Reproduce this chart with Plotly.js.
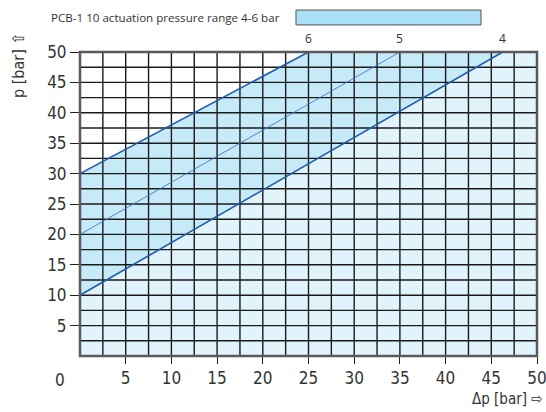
<!DOCTYPE html>
<html>
<head>
<meta charset="utf-8">
<script src="https://cdn.plot.ly/plotly-3.0.1.min.js"></script>
<style>html,body{margin:0;padding:0;background:#fff;}#chart{width:546px;height:412px;}</style>
</head>
<body>
<div id="chart"></div>
<script>
// Line labels (actuation pressure, bar)
var lineLabels = ['6', '5', '4'];
// Upper limit (6 bar)
var upperX = [0, 25, 50];
var upperY = [30, 50, 50];
// Middle line (5 bar)
var midX = [0, 35];
var midY = [20, 50];
// Lower limit (4 bar)
var lowerX = [0, 46.25, 50];
var lowerY = [10, 50, 50];
// Axis ticks
var xTicks = [5, 10, 15, 20, 25, 30, 35, 40, 45, 50];
var yTicks = [5, 10, 15, 20, 25, 30, 35, 40, 45, 50];
var gridStep = 2.5;
var axisMax = 50;

var gx = [], gy = [];
for (var v = 0; v <= axisMax + 1e-9; v += gridStep) {
  gx.push(v, v, null); gy.push(0, axisMax, null);
  gx.push(0, axisMax, null); gy.push(v, v, null);
}

var lineBlue = '#1e5cab';
var traces = [
  {x: upperX, y: upperY, type: 'scatter', mode: 'lines', fill: 'tozeroy',
   fillcolor: '#c7eaf9', line: {width: 0}, hoverinfo: 'skip'},
  {x: lowerX, y: lowerY, type: 'scatter', mode: 'lines', fill: 'tozeroy',
   fillcolor: '#e1f4fc', line: {width: 0}, hoverinfo: 'skip'},
  {x: gx, y: gy, type: 'scatter', mode: 'lines', line: {color: '#1a1a1a', width: 1.4}, hoverinfo: 'skip'},
  {x: upperX.slice(0, 2), y: upperY.slice(0, 2), type: 'scatter', mode: 'lines', line: {color: lineBlue, width: 1.6}},
  {x: midX, y: midY, type: 'scatter', mode: 'lines', line: {color: '#3b7cc9', width: 0.9}},
  {x: lowerX.slice(0, 2), y: lowerY.slice(0, 2), type: 'scatter', mode: 'lines', line: {color: lineBlue, width: 1.6}}
];

var narrow = 'Liberation Sans Narrow, DejaVu Sans Condensed, Arial Narrow, sans-serif';
var tickFont = {family: narrow, size: 17, color: '#333'};
var annotations = [
  {xref: 'paper', yref: 'paper', x: 0, y: 0, xanchor: 'center', yanchor: 'middle', xshift: -20, yshift: -24,
   text: '0', showarrow: false, font: tickFont},
  {xref: 'paper', yref: 'paper', x: 0.935, y: 0, xanchor: 'center', yanchor: 'middle', yshift: -43,
   text: 'Δp [bar] ⇨', showarrow: false, font: {family: narrow, size: 15, color: '#333'}},
  {xref: 'paper', yref: 'paper', x: 0, y: 1, xanchor: 'center', yanchor: 'middle', xshift: -62, yshift: -14,
   text: 'p [bar] ⇧', textangle: -90, showarrow: false, font: {family: narrow, size: 16, color: '#333'}},
  {xref: 'paper', yref: 'paper', x: 0.186, y: 1.112, xanchor: 'center', yanchor: 'middle',
   text: 'PCB-1 10 actuation pressure range 4-6 bar', showarrow: false,
   font: {family: 'Open Sans, sans-serif', size: 11.6, color: '#333'}}
];
var tops = [upperX[1], midX[1], lowerX[1]];
for (var i = 0; i < lineLabels.length; i++) {
  annotations.push({x: tops[i], y: axisMax, xref: 'x', yref: 'y', yanchor: 'bottom', yshift: 3,
    text: lineLabels[i], showarrow: false, font: {family: 'Open Sans, sans-serif', size: 12, color: '#333'}});
}

var layout = {
  width: 546, height: 412,
  margin: {l: 80, r: 9, t: 52, b: 56},
  paper_bgcolor: '#fff', plot_bgcolor: '#fff',
  showlegend: false,
  xaxis: {range: [0, axisMax], tickvals: xTicks, ticks: 'outside', ticklen: 7, tickcolor: '#222',
    ticklabeloverflow: 'allow', showgrid: false, zeroline: false, showline: false, tickfont: tickFont, fixedrange: true},
  yaxis: {range: [0, axisMax], tickvals: yTicks, ticks: 'outside', ticklen: 9, tickcolor: '#222',
    ticklabeloverflow: 'allow', showgrid: false, zeroline: false, showline: false, tickfont: tickFont, fixedrange: true},
  shapes: [
    {type: 'rect', xref: 'paper', yref: 'paper', x0: 0, x1: 1, y0: 0, y1: 1,
     line: {color: '#5a5a5a', width: 2.5}, layer: 'above'},
    {type: 'rect', xref: 'paper', yref: 'paper', x0: 0.4726, x1: 0.8775, y0: 1.089, y1: 1.138,
     fillcolor: '#a9dff7', line: {color: '#555', width: 1}}
  ],
  annotations: annotations
};

Plotly.newPlot('chart', traces, layout, {displayModeBar: false, staticPlot: true});
</script>
</body>
</html>
